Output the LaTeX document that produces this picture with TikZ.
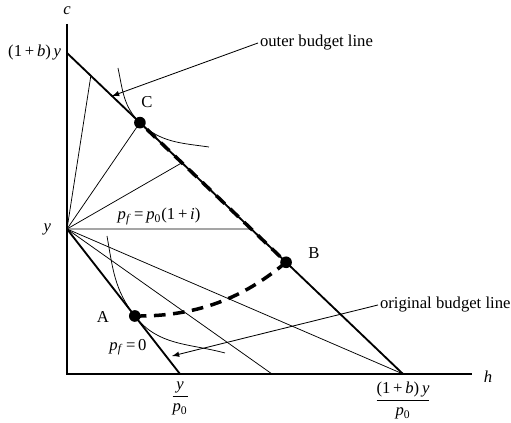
\documentclass[tikz,border=0pt]{standalone}
\usepackage{amsmath}
\usepackage{fontspec}
\setmainfont{Liberation Serif}
\usetikzlibrary{calc}
\newcommand{\iv}[1]{\textit{#1}}
\newcommand{\pz}{\iv{p}\textsubscript{0}}

\begin{document}
\begin{tikzpicture}[x=0.6pt,y=0.6pt,font=\normalsize,
  axis/.style={line width=0.75pt},
  budget/.style={line width=1.1pt},
  ray/.style={line width=0.45pt},
  path/.style={line width=2.1pt,dash pattern=on 7pt off 4.5pt},
  dot/.style={circle,fill,inner sep=0pt,minimum size=7pt},
  pointer/.style={line width=0.5pt,-latex}]
  \useasboundingbox (0,0) rectangle (511,423);
  \coordinate (O) at (67,49);
  \coordinate (ctop) at (67,399);
  \coordinate (hend) at (472,49);
  \coordinate (BY) at (67,370);
  \coordinate (Y) at (67,194);
  \coordinate (X0) at (180,49);
  \coordinate (X1) at (403,49);
  \coordinate (X2) at (272,49);
  \coordinate (P1) at ($(BY)!0.071!(X1)$);
  \coordinate (C) at ($(BY)!0.217!(X1)$);
  \coordinate (P3) at ($(BY)!0.342!(X1)$);
  \coordinate (H) at ($(BY)!0.548!(X1)$);
  \coordinate (B) at ($(BY)!0.652!(X1)$);
  \coordinate (A) at ($(Y)!0.6!(X0)$);
  \coordinate (outtip) at ($(BY)!0.134!(X1)$);
  \coordinate (origtip) at (172,67);

  \draw[axis] (ctop) -- (O) -- (hend);
  \node at (67,412) {\iv{c}};
  \node at (488,46) {\iv{h}};
  \node[left] at (BY) {(1\,+\,\iv{b})\,\iv{y}};
  \node[left=6pt] at (Y) {\iv{y}};
  \node[below=1pt] at (X0) {$\dfrac{\text{\iv{y}}}{\text{\pz}}$};
  \node[below=1pt] at (X1) {$\dfrac{\text{(1\,+\,\iv{b})\,\iv{y}}}{\text{\pz}}$};

  \draw[budget] (BY) -- (X1);
  \draw[budget] (Y) -- (X0);
  \draw[ray] (Y) -- (P1);
  \draw[ray] (Y) -- (C);
  \draw[ray] (Y) -- (P3);
  \draw[ray] (Y) -- (H);
  \draw[ray] (Y) -- (X2);
  \draw[ray] (Y) -- (X1);
  \node[above=-1pt] at ($(Y)!0.5!(H)$) {\iv{p}\textsubscript{\iv{f}}\,=\,\pz(1\,+\,\iv{i})};
  \node at (128,76) {\iv{p}\textsubscript{\iv{f}}\,=\,0};

  \draw[ray] (118,355) to[out=-78,in=136] (C) to[out=-44,in=172] (209,276);
  \draw[ray] (107,187) to[out=-80,in=128] (A) to[out=-52,in=165] (225,70);

  \draw[path] (A) .. controls (210,106) and (255,135) .. (B) -- (C);
  \node[dot] at (A) {};
  \node[dot] at (B) {};
  \node[dot] at (C) {};
  \node at (103,106) {A};
  \node at (314,170) {B};
  \node at (147,321) {C};

  \node[right,inner sep=1pt] (outer) at (258,380) {outer budget line};
  \node[right,inner sep=1pt] (orig) at (378,118) {original budget line};
  \draw[pointer] (outer.west) -- (outtip);
  \draw[pointer] (orig.west) -- (origtip);
\end{tikzpicture}
\end{document}
